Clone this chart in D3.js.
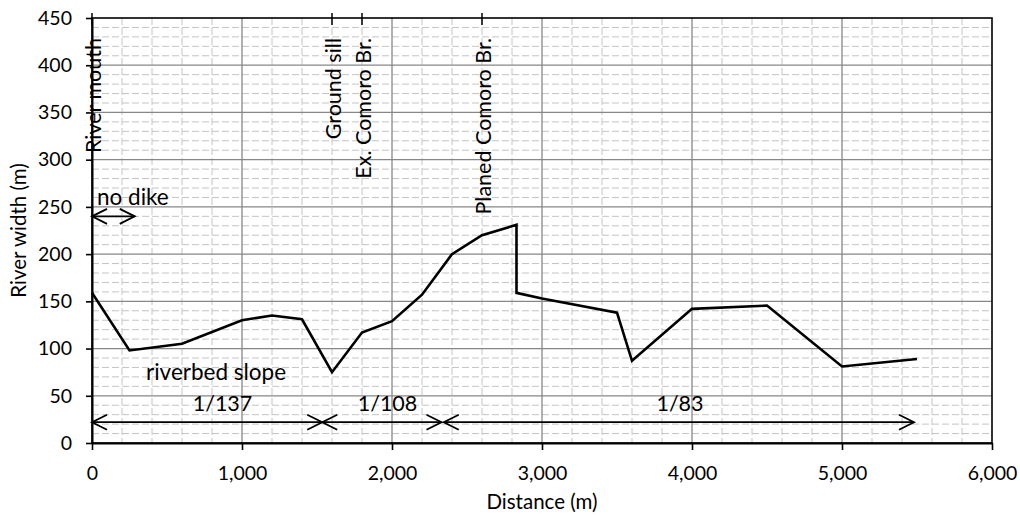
<!DOCTYPE html>
<html>
<head>
<meta charset="utf-8">
<script src="https://cdn.jsdelivr.net/npm/d3@7"></script>
<style>
  html, body { margin: 0; padding: 0; background: #fff; }
  svg text { font-family: Lato, "Open Sans", sans-serif; fill: #000; }
</style>
</head>
<body>
<svg id="chart" width="1020" height="515"></svg>
<script>
// River width along the channel
const distance = [0, 250, 600, 1000, 1200, 1400, 1600, 1800, 2000, 2200, 2400, 2600, 2830, 2830, 3000, 3500, 3600, 4000, 4500, 5000, 5500];
const riverWidth = [159, 98, 105, 130, 135, 131, 75, 117, 129, 157, 200, 220, 231, 159, 153, 138, 87, 142, 145.5, 81, 89];

// Axis ticks
const xTicks = [0, 1000, 2000, 3000, 4000, 5000, 6000];
const yTicks = [0, 50, 100, 150, 200, 250, 300, 350, 400, 450];

// Landmarks along the river (m)
const landmarkNames = ["River mouth", "Ground sill", "Ex. Comoro Br.", "Planed Comoro Br."];
const landmarkDistance = [0, 1600, 1800, 2600];

// Riverbed slope reaches (m) and their gradients
const slopeStart = [0, 1535, 2345];
const slopeEnd = [1535, 2330, 5480];
const slopeLabels = ["1/137", "1/108", "1/83"];
const slopeLabelAt = [870, 1970, 3920];
const slopeArrowLevel = 22;

// Reach without dikes
const noDikeStart = 0;
const noDikeEnd = 285;
const noDikeLevel = 240;

const W = 1020, H = 515;
const margin = { top: 18, right: 28, bottom: 72, left: 92 };
const svg = d3.select("#chart");

const x = d3.scaleLinear().domain([0, 6000]).range([margin.left, W - margin.right]);
const y = d3.scaleLinear().domain([0, 450]).range([H - margin.bottom, margin.top]);

const fsTick = 19.5;
const fsNote = 21.5;
const fsNoteLower = 22.5;
const fsTitle = 20.5;

// Minor grid (dashed)
const gMinor = svg.append("g");
gMinor.selectAll("line.hx").data(d3.range(0, 451, 10).filter(v => v % 50 !== 0))
  .join("line")
  .attr("x1", x(0)).attr("x2", x(6000))
  .attr("y1", d => y(d)).attr("y2", d => y(d))
  .attr("stroke", "#c4c4c4").attr("stroke-width", 1).attr("stroke-dasharray", "7,3");
gMinor.selectAll("line.vx").data(d3.range(0, 6001, 200).filter(v => v % 1000 !== 0))
  .join("line")
  .attr("y1", y(450)).attr("y2", y(0))
  .attr("x1", d => x(d)).attr("x2", d => x(d))
  .attr("stroke", "#c4c4c4").attr("stroke-width", 1).attr("stroke-dasharray", "7,3");

// Major grid
const gMajor = svg.append("g");
gMajor.selectAll("line.h").data(yTicks.filter(v => v > 0 && v < 450))
  .join("line")
  .attr("x1", x(0)).attr("x2", x(6000))
  .attr("y1", d => y(d)).attr("y2", d => y(d))
  .attr("stroke", "#878787").attr("stroke-width", 1.3);
gMajor.selectAll("line.v").data(xTicks.filter(v => v > 0 && v < 6000))
  .join("line")
  .attr("y1", y(450)).attr("y2", y(0))
  .attr("x1", d => x(d)).attr("x2", d => x(d))
  .attr("stroke", "#878787").attr("stroke-width", 1.3);

// Plot frame
svg.append("rect")
  .attr("x", x(0)).attr("y", y(450))
  .attr("width", x(6000) - x(0)).attr("height", y(0) - y(450))
  .attr("fill", "none").attr("stroke", "#000").attr("stroke-width", 1.6);

// Axes
const xAxis = svg.append("g")
  .attr("transform", `translate(0,${y(0)})`)
  .call(d3.axisBottom(x).tickValues(xTicks).tickFormat(d3.format(",")).tickSizeInner(7).tickSizeOuter(0).tickPadding(16.5));
const yAxis = svg.append("g")
  .attr("transform", `translate(${x(0)},0)`)
  .call(d3.axisLeft(y).tickValues(yTicks).tickSizeInner(6).tickSizeOuter(0).tickPadding(14));
[xAxis, yAxis].forEach(g => {
  g.select(".domain").attr("stroke", "#000").attr("stroke-width", 2);
  g.selectAll(".tick line").attr("stroke", "#000").attr("stroke-width", 1.6);
  g.selectAll(".tick text").attr("font-size", fsTick).attr("font-family", "Lato, sans-serif").attr("fill", "#000");
});

// Axis titles
svg.append("text")
  .attr("x", (x(0) + x(6000)) / 2).attr("y", 509)
  .attr("text-anchor", "middle").attr("font-size", fsTitle)
  .text("Distance (m)");
svg.append("text")
  .attr("transform", `translate(26,${(y(0) + y(450)) / 2}) rotate(-90)`)
  .attr("text-anchor", "middle").attr("font-size", fsTitle)
  .text("River width (m)");

// Landmark markers on the top edge with rotated names
landmarkDistance.forEach((d, i) => {
  svg.append("line")
    .attr("x1", x(d)).attr("x2", x(d))
    .attr("y1", y(450) - 5).attr("y2", y(450) + 7)
    .attr("stroke", "#000").attr("stroke-width", 1.5);
  svg.append("text")
    .attr("transform", `translate(${x(d) + 9},${y(450) + 20}) rotate(-90)`)
    .attr("text-anchor", "end").attr("font-size", fsNote)
    .text(landmarkNames[i]);
});

// Width profile
const line = d3.line().x((d, i) => x(distance[i])).y((d, i) => y(riverWidth[i]));
svg.append("path")
  .datum(riverWidth)
  .attr("d", line)
  .attr("fill", "none").attr("stroke", "#000").attr("stroke-width", 2.6)
  .attr("stroke-linejoin", "miter");

// Double-headed arrow helper (open chevron heads)
function doubleArrow(x0, x1, lv) {
  const px0 = x(x0), px1 = x(x1), py = y(lv);
  const hl = 15, hw = 7.5;
  const g = svg.append("g").attr("stroke", "#000").attr("fill", "none").attr("stroke-width", 1.8);
  g.append("line").attr("x1", px0).attr("x2", px1).attr("y1", py).attr("y2", py);
  g.append("path").attr("d", `M${px0 + hl},${py - hw}L${px0},${py}L${px0 + hl},${py + hw}`);
  g.append("path").attr("d", `M${px1 - hl},${py - hw}L${px1},${py}L${px1 - hl},${py + hw}`);
}

// No-dike reach
doubleArrow(noDikeStart, noDikeEnd, noDikeLevel);
svg.append("text")
  .attr("x", x(noDikeStart) + 5).attr("y", y(noDikeLevel) - 11)
  .attr("font-size", fsNoteLower).text("no dike");

// Riverbed slope reaches
svg.append("text")
  .attr("x", x(360)).attr("y", y(67))
  .attr("font-size", fsNoteLower).text("riverbed slope");
slopeLabels.forEach((lab, i) => {
  doubleArrow(slopeStart[i], slopeEnd[i], slopeArrowLevel);
  svg.append("text")
    .attr("x", x(slopeLabelAt[i])).attr("y", y(slopeArrowLevel) - 11)
    .attr("text-anchor", "middle").attr("font-size", fsNote)
    .text(lab);
});
</script>
</body>
</html>
